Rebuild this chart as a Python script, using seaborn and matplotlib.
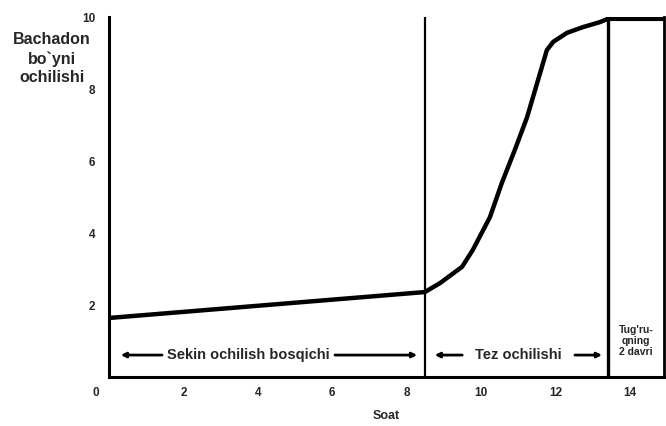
import numpy as np
import pandas as pd
import matplotlib
matplotlib.use("Agg")
import matplotlib.pyplot as plt
import matplotlib.transforms as mtransforms
import seaborn as sns

# cervical dilation curve
soat = [0, 8.49, 8.90, 9.49, 9.78, 10.24, 10.56, 10.91, 11.24, 11.77, 11.94, 12.31, 12.74, 13.20, 13.41, 14.92]
ochilish = [1.64, 2.36, 2.61, 3.06, 3.53, 4.44, 5.39, 6.31, 7.22, 9.08, 9.31, 9.56, 9.72, 9.86, 9.95, 9.95]
x_ticks = [0, 2, 4, 6, 8, 10, 12, 14]
y_ticks = [0, 2, 4, 6, 8, 10]
phase_bounds = [8.5, 13.41]

df = pd.DataFrame({"Soat": soat, "Ochilish": ochilish})

sns.set_style("white")
plt.rcParams['font.family'] = ['Liberation Sans', 'DejaVu Sans']
plt.rcParams['font.weight'] = 'bold'

fig = plt.figure(figsize=(6.66, 4.26), dpi=100)
ax = fig.add_axes([0.1637, 0.115, 0.8333, 0.845])

sns.lineplot(data=df, x="Soat", y="Ochilish", color="black", linewidth=3.2, ax=ax)
ax.lines[0].set_solid_joinstyle('round')

for b in phase_bounds:
    ax.axvline(b, color="black", linewidth=1.6 if b < 10 else 2.4)

ax.set_xlim(0, 14.92)
ax.set_ylim(0, 10)
ax.spines['top'].set_visible(False)
for s in ['left', 'bottom']:
    ax.spines[s].set_linewidth(2.2)
ax.spines['right'].set_linewidth(2.0)
for s in ax.spines.values():
    s.set_color("black")

ax.set_xticks(x_ticks)
ax.set_xticklabels([str(t) for t in x_ticks], fontweight='bold', fontsize=8.5)
ax.set_yticks(y_ticks)
ax.set_yticklabels([''] + [str(t) for t in y_ticks[1:]], fontweight='bold', fontsize=8.5)
ax.tick_params(axis='x', length=0, pad=7)
ax.tick_params(axis='y', length=0, pad=10)
lab0 = ax.get_xticklabels()[0]
lab0.set_transform(lab0.get_transform() + mtransforms.ScaledTranslation(-0.13, 0, fig.dpi_scale_trans))

ax.set_xlabel("Soat", fontweight='bold', fontsize=9, labelpad=8)
ax.set_ylabel("")
fig.text(0.078, 0.862, "Bachadon\nbo`yni\nochilishi", ha='center', va='center',
         fontsize=11.5, fontweight='bold', linespacing=1.3)

arrow = dict(arrowstyle='-|>', lw=2, color='black', mutation_scale=7)
ay = 0.61
ax.annotate('', xy=(0.24, ay), xytext=(1.5, ay), arrowprops=arrow)
ax.text(3.75, ay, "Sekin ochilish bosqichi", ha='center', va='center', fontsize=10.5, fontweight='bold')
ax.annotate('', xy=(8.36, ay), xytext=(6.0, ay), arrowprops=arrow)
ax.annotate('', xy=(8.68, ay), xytext=(9.57, ay), arrowprops=arrow)
ax.text(11.0, ay, "Tez ochilishi", ha='center', va='center', fontsize=10.5, fontweight='bold')
ax.annotate('', xy=(13.33, ay), xytext=(12.45, ay), arrowprops=arrow)
ax.text(14.17, 1.0, "Tug'ru-\nqning\n2 davri", ha='center', va='center', fontsize=7.5,
        fontweight='bold', linespacing=1.1)

fig.savefig("out.png", dpi=100)
